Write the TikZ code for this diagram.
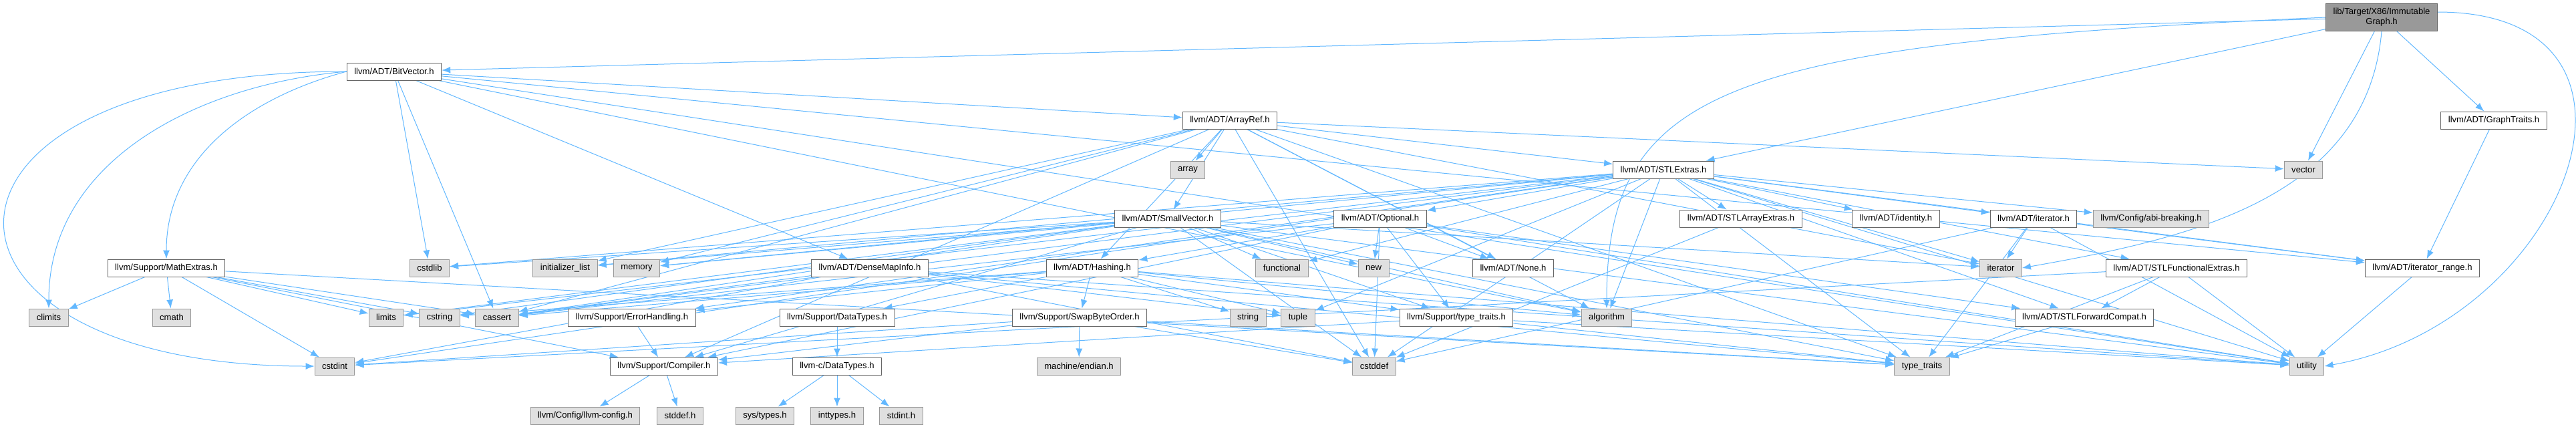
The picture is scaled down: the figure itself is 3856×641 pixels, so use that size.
\documentclass[tikz,border=0pt]{standalone}
\usepackage{fontspec}
\setmainfont{Liberation Sans}
\usetikzlibrary{arrows.meta,backgrounds}
\definecolor{edgeBlue}{HTML}{63B8FF}
\definecolor{boxGrey}{HTML}{E0E0E0}
\definecolor{rootGrey}{HTML}{999999}
\definecolor{lineGrey}{HTML}{666666}

\tikzset{
  fileBox/.style={draw=lineGrey, fill=white, line width=1pt, minimum height=26pt,
    inner xsep=11pt, inner ysep=0pt, font=\fontsize{13.1}{15}\selectfont},
  sysBox/.style={fileBox, draw=rootGrey, fill=boxGrey},
  rootBox/.style={fileBox, fill=rootGrey, align=center, minimum height=41pt},
  incl/.style={draw=edgeBlue, line width=1pt, -{Latex[length=13pt,width=10pt]}}
}

\begin{document}
\begin{tikzpicture}[x=1pt, y=-1pt]
  \useasboundingbox (0,0) rectangle (3856,641);

  % header and its own includes
  \node[rootBox] (immutableGraph) at (3565,26) {lib/Target/X86/Immutable\\Graph.h};
  \node[fileBox] (bitVector) at (590,107) {llvm/ADT/BitVector.h};
  \node[fileBox] (arrayRef) at (1841,180) {llvm/ADT/ArrayRef.h};
  \node[fileBox] (graphTraits) at (3733,180) {llvm/ADT/GraphTraits.h};
  \node[sysBox] (stdArray) at (1778,254) {array};
  \node[fileBox] (stlExtras) at (2490,254) {llvm/ADT/STLExtras.h};
  \node[sysBox] (stdVector) at (3448,254) {vector};

  \node[fileBox] (smallVector) at (1748,327) {llvm/ADT/SmallVector.h};
  \node[fileBox] (optionalH) at (2066,327) {llvm/ADT/Optional.h};
  \node[fileBox] (stlArrayExtras) at (2606,327) {llvm/ADT/STLArrayExtras.h};
  \node[fileBox] (identityH) at (2838,327) {llvm/ADT/identity.h};
  \node[fileBox] (iteratorH) at (3044,327) {llvm/ADT/iterator.h};
  \node[sysBox] (abiBreaking) at (3220,327) {llvm/Config/abi-breaking.h};

  \node[fileBox] (mathExtras) at (249,401) {llvm/Support/MathExtras.h};
  \node[sysBox] (stdCstdlib) at (643,401) {cstdlib};
  \node[sysBox] (stdInitList) at (846,401) {initializer\_list};
  \node[sysBox] (stdMemory) at (953,401) {memory};
  \node[fileBox] (denseMapInfo) at (1302,401) {llvm/ADT/DenseMapInfo.h};
  \node[fileBox] (hashingH) at (1635,401) {llvm/ADT/Hashing.h};
  \node[sysBox] (stdFunctional) at (1919,401) {functional};
  \node[sysBox] (stdNew) at (2056,401) {new};
  \node[fileBox] (noneH) at (2265,401) {llvm/ADT/None.h};
  \node[sysBox] (stdIterator) at (2995,401) {iterator};
  \node[fileBox] (stlFunctional) at (3258,401) {llvm/ADT/STLFunctionalExtras.h};
  \node[fileBox] (iteratorRange) at (3626,401) {llvm/ADT/iterator\_range.h};

  \node[sysBox] (stdClimits) at (73,475) {climits};
  \node[sysBox] (stdCmath) at (257,475) {cmath};
  \node[sysBox] (stdLimits) at (578,475) {limits};
  \node[sysBox] (stdCstring) at (658,475) {cstring};
  \node[sysBox] (stdCassert) at (744,475) {cassert};
  \node[fileBox] (errorHandling) at (946,475) {llvm/Support/ErrorHandling.h};
  \node[fileBox] (dataTypes) at (1253,475) {llvm/Support/DataTypes.h};
  \node[fileBox] (swapByteOrder) at (1616,475) {llvm/Support/SwapByteOrder.h};
  \node[sysBox] (stdString) at (1868,475) {string};
  \node[sysBox] (stdTuple) at (1943,475) {tuple};
  \node[fileBox] (typeTraitsH) at (2180,475) {llvm/Support/type\_traits.h};
  \node[sysBox] (stdAlgorithm) at (2405,475) {algorithm};
  \node[fileBox] (stlForward) at (3120,475) {llvm/ADT/STLForwardCompat.h};

  \node[sysBox] (stdCstdint) at (501,548) {cstdint};
  \node[fileBox] (compilerH) at (994,548) {llvm/Support/Compiler.h};
  \node[fileBox] (cDataTypes) at (1253,548) {llvm-c/DataTypes.h};
  \node[sysBox] (machineEndian) at (1615,548) {machine/endian.h};
  \node[sysBox] (stdCstddef) at (2057,548) {cstddef};
  \node[sysBox] (stdTypeTraits) at (2877,548) {type\_traits};
  \node[sysBox] (stdUtility) at (3453,548) {utility};

  \node[sysBox] (llvmConfig) at (876,622) {llvm/Config/llvm-config.h};
  \node[sysBox] (stddefH) at (1018,622) {stddef.h};
  \node[sysBox] (sysTypes) at (1145,622) {sys/types.h};
  \node[sysBox] (inttypesH) at (1253,622) {inttypes.h};
  \node[sysBox] (stdintH) at (1349,622) {stdint.h};

  % include edges, behind the boxes
  \begin{scope}[on background layer]
    \foreach \dst in {bitVector,graphTraits,stlExtras,stdVector}
      \draw[incl] (immutableGraph) -- (\dst);
    \draw[incl] (immutableGraph.west) .. controls +(-900,40) and +(0,-330) .. (stdAlgorithm.north);
    \draw[incl] (immutableGraph.south) to[out=-95,in=10] (stdIterator.east);
    \draw[incl] ([yshift=8pt]immutableGraph.east) to[out=0,in=10,looseness=1.7] (stdUtility.east);

    \foreach \dst in {arrayRef,denseMapInfo,iteratorRange,stdAlgorithm,stdCassert,stdCstdlib,stdUtility}
      \draw[incl] (bitVector) -- (\dst);
    \draw[incl] (bitVector.west) .. controls +(-680,0) and +(-620,0) .. (stdCstdint.west);
    \draw[incl] (bitVector.west) to[out=185,in=90] (stdClimits.north);
    \draw[incl] (bitVector.west) to[out=195,in=90] (mathExtras.north);

    \foreach \dst in {hashingH,noneH,smallVector,stlExtras,compilerH,stdAlgorithm,stdArray,stdCassert,stdCstddef,stdInitList,stdIterator,stdMemory,stdTypeTraits,stdVector}
      \draw[incl] (arrayRef) -- (\dst);
    \draw[incl] (graphTraits) -- (iteratorRange);
    \foreach \dst in {identityH,optionalH,stlArrayExtras,stlForward,stlFunctional,iteratorH,iteratorRange,abiBreaking,errorHandling,stdAlgorithm,stdCassert,stdCstddef,stdCstdint,stdCstdlib,stdFunctional,stdInitList,stdIterator,stdLimits,stdMemory,stdTuple,stdTypeTraits,stdUtility}
      \draw[incl] (stlExtras) -- (\dst);
    \foreach \dst in {compilerH,typeTraitsH,stdAlgorithm,stdCassert,stdCstddef,stdCstdlib,stdCstring,stdFunctional,stdInitList,stdIterator,stdLimits,stdMemory,stdNew,stdTypeTraits,stdUtility}
      \draw[incl] (smallVector) -- (\dst);
    \foreach \dst in {hashingH,noneH,stlForward,compilerH,typeTraitsH,stdCassert,stdCstddef,stdNew,stdUtility}
      \draw[incl] (optionalH) -- (\dst);
    \draw[incl] (stlArrayExtras) -- (stdCstddef);
    \foreach \dst in {iteratorRange,stdCstddef,stdIterator,stdTypeTraits,stdUtility}
      \draw[incl] (iteratorH) -- (\dst);
    \foreach \dst in {compilerH,stdCassert,stdClimits,stdCmath,stdCstdint,stdCstring,stdLimits,stdTypeTraits}
      \draw[incl] (mathExtras) -- (\dst);
    \foreach \dst in {stdCassert,stdCstddef,stdCstdint,stdTuple,stdTypeTraits,stdUtility}
      \draw[incl] (denseMapInfo) -- (\dst);
    \foreach \dst in {dataTypes,errorHandling,swapByteOrder,typeTraitsH,stdAlgorithm,stdCassert,stdCstring,stdString,stdTuple,stdUtility}
      \draw[incl] (hashingH) -- (\dst);
    \foreach \dst in {stlForward,stdCstdint,stdTypeTraits,stdUtility}
      \draw[incl] (stlFunctional) -- (\dst);
    \draw[incl] (iteratorRange) -- (stdUtility);
    \draw[incl] (errorHandling) -- (compilerH);
    \draw[incl] (dataTypes) -- (cDataTypes);
    \foreach \dst in {compilerH,stdCstddef,stdCstdint,stdTypeTraits,machineEndian}
      \draw[incl] (swapByteOrder) -- (\dst);
    \foreach \dst in {compilerH,stdTypeTraits,stdUtility}
      \draw[incl] (typeTraitsH) -- (\dst);
    \draw[incl] (stlForward) -- (stdTypeTraits);
    \foreach \dst in {llvmConfig,stddefH}
      \draw[incl] (compilerH) -- (\dst);
    \foreach \dst in {inttypesH,stdintH,sysTypes}
      \draw[incl] (cDataTypes) -- (\dst);
  \end{scope}
\end{tikzpicture}
\end{document}
